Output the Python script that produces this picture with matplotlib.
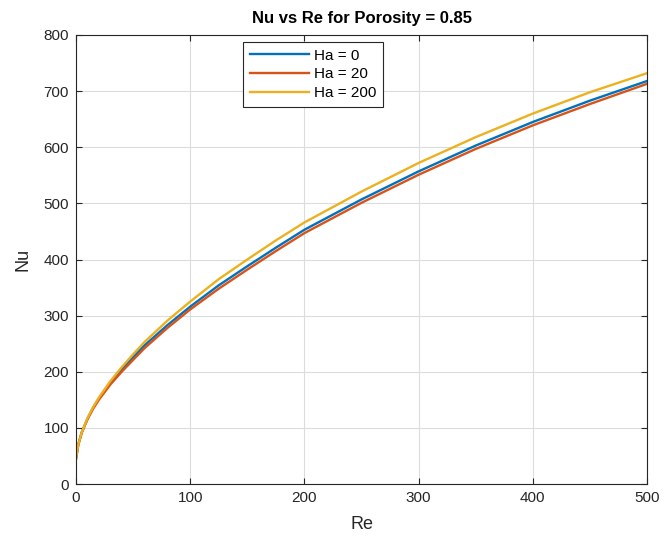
import matplotlib
matplotlib.use("Agg")
import matplotlib.pyplot as plt

plt.rcParams['font.family'] = ['Liberation Sans', 'DejaVu Sans']

re_vals = [0, 2, 5, 10, 15, 20, 30, 40, 50, 60, 80, 100, 125, 150, 175, 200, 250, 300, 350, 400, 450, 500]
nu_ha0 = [45, 70, 92, 116, 136, 152, 180, 204, 226, 247, 283, 316, 354, 388, 421, 453, 507, 557, 603, 645, 683, 718]
nu_ha20 = [45, 70, 91, 115, 134, 150, 177, 200, 221, 242, 278, 311, 348, 382, 415, 447, 501, 551, 597, 639, 677, 713]
nu_ha200 = [45, 70, 92, 117, 137, 154, 183, 208, 231, 253, 291, 325, 365, 400, 434, 466, 521, 572, 618, 660, 698, 732]
labels = ['Ha = 0', 'Ha = 20', 'Ha = 200']
colors = ['#0072BD', '#D95319', '#EDB120']

fig = plt.figure(figsize=(6.65, 5.41), dpi=100)
ax = fig.add_axes([76/665, 57/541, 571/665, 449/541])

for y, lab, c in zip([nu_ha0, nu_ha20, nu_ha200], labels, colors):
    ax.plot(re_vals, y, color=c, linewidth=1.7, label=lab)

ax.set_xlim(0, 500)
ax.set_ylim(0, 800)
ax.set_xticks(range(0, 501, 100))
ax.set_yticks(range(0, 801, 100))
ax.grid(True, color='#dcdcdc', linewidth=0.8)
ax.set_axisbelow(True)
for s in ax.spines.values():
    s.set_color('#262626')
    s.set_linewidth(0.8)
ax.tick_params(direction='in', top=True, right=True, length=4, width=0.8,
               color='#262626', labelsize=11, labelcolor='#262626', pad=5)
ax.set_xlabel('Re', fontsize=13, color='#262626', labelpad=8)
ax.set_ylabel('Nu', fontsize=13, color='#262626', labelpad=9)
ax.set_title('Nu vs Re for Porosity = 0.85', fontsize=12, fontweight='bold', pad=9)

leg = ax.legend(loc='upper left', bbox_to_anchor=(0.292, 0.985), fontsize=11,
                frameon=True, fancybox=False, framealpha=1, edgecolor='#262626',
                handlelength=3.9, handletextpad=0.3, borderpad=0.45, labelspacing=0.32,
                borderaxespad=0)
leg.get_frame().set_linewidth(0.8)

fig.savefig('out.png', dpi=100)
